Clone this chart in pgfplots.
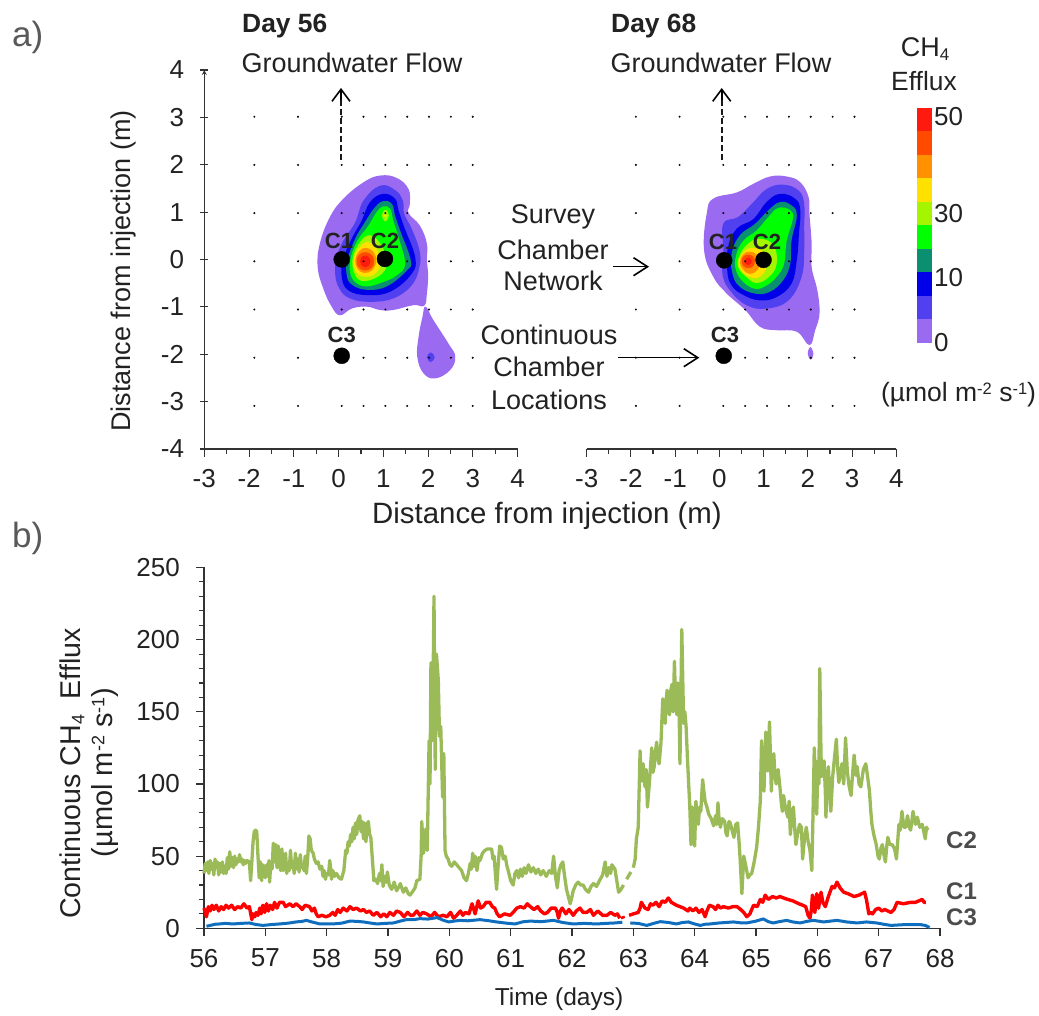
\documentclass[border=0pt]{standalone}
\usepackage{pgfplots}
\pgfplotsset{compat=1.18}
\usepackage{fontspec}
\setmainfont{Liberation Sans}
\usetikzlibrary{arrows.meta}
\newcommand{\fs}[1]{\fontsize{#1}{#1}\selectfont}
\definecolor{c1}{HTML}{9A6AF0}
\definecolor{c2}{HTML}{5040F0}
\definecolor{c3}{HTML}{0000E8}
\definecolor{c4}{HTML}{0A8F70}
\definecolor{c5}{HTML}{00FF00}
\definecolor{c6}{HTML}{A5F500}
\definecolor{c7}{HTML}{FFE000}
\definecolor{c8}{HTML}{FF9000}
\definecolor{c9}{HTML}{FF4A00}
\definecolor{c10}{HTML}{FF1A10}
\definecolor{axc}{HTML}{333333}
\definecolor{txt}{HTML}{222222}
\definecolor{gr}{HTML}{9BBB59}
\definecolor{bl}{HTML}{0F6FBE}
\pgfplotsset{
  mapax/.style={scale only axis,axis lines=none,clip=false,ymin=-3.894,ymax=3.97,tick style={draw=none}},
  cont/.style={fill=#1,draw=none,smooth cycle,tension=0.7,forget plot},
  dots/.style={only marks,mark=*,mark size=0.8pt,mark options={fill=black!75,draw=none},forget plot},
  chamb/.style={only marks,mark=*,mark size=8pt,mark options={fill=black,draw=black},forget plot},
  topax/.style={scale only axis,axis x line=bottom,clip=false,xmin=-3,xmax=4,ymin=-4,ymax=4,
    axis line style={-,draw=axc,line width=1.2pt},tick style={draw=axc,line width=1.1pt},
    tick align=outside,major tick length=8pt,minor tick length=5.5pt,
    xtick={-3,-2,-1,0,1,2,3,4},xticklabels={-3,-2,-1,0,1,2,3,4},minor x tick num=1,
    xticklabel style={font=\fs{26},text=txt,inner sep=0pt,yshift=-12.5pt},
    yticklabel style={font=\fs{26},text=txt,inner sep=0pt,xshift=-16pt}},
}
\newcommand{\tn}[4][center]{\node[anchor=#1,inner sep=0pt,text=txt,align=center] at (#2,{1015-#3}) {#4};}
\begin{document}
\begin{tikzpicture}[x=1pt,y=1pt]
\useasboundingbox (0,0) rectangle (1039,1015);

% ---------- left map
\begin{axis}[mapax,at={(204.3pt,566pt)},width=313.4pt,height=379pt,xmin=-3.146,xmax=4.03]
\addplot[cont=c1] coordinates {(.88,1.78)(1.26,1.73)(1.53,1.50)(1.56,1.19)(1.53,1.00)(1.79,.74)(1.95,.37)(1.95,.02)(1.98,-.26)(1.95,-.67)(1.89,-.92)(1.64,-.91)(1.18,-1.01)(.88,-1.01)(.57,-.94)(.23,-.98)(-.04,-1.12)(-.23,-.94)(-.42,-.57)(-.55,-.12)(-.50,.37)(-.27,.92)(.04,1.30)(.50,1.64)};
\addplot[cont=c1] coordinates {(1.92,-.94)(2.10,-1.22)(2.44,-1.70)(2.60,-1.98)(2.48,-2.26)(2.14,-2.43)(1.87,-2.32)(1.73,-1.98)(1.76,-1.57)(1.85,-1.15)};
\addplot[cont=c2] coordinates {(2.04,-1.89)(2.13,-1.99)(2.04,-2.09)(1.95,-1.99)};
\addplot[cont=c2] coordinates {(.88,1.57)(1.22,1.48)(1.40,1.26)(1.43,.99)(1.60,.68)(1.78,.23)(1.78,-.12)(1.60,-.50)(1.18,-.77)(.65,-.84)(.19,-.77)(-.05,-.57)(-.15,-.26)(-.11,.09)(.04,.43)(.31,.81)(.50,1.26)};
\addplot[cont=c3] coordinates {(.95,1.40)(1.22,1.30)(1.30,1.06)(1.43,.71)(1.68,.09)(1.60,-.26)(1.11,-.63)(.57,-.70)(.15,-.60)(0,-.32)(.04,.06)(.23,.47)(.46,.85)(.65,1.23)};
\addplot[cont=c4] coordinates {(.95,1.25)(1.15,1.19)(1.22,.95)(1.35,.61)(1.58,.02)(1.49,-.19)(1.03,-.52)(.57,-.59)(.23,-.48)(.11,-.26)(.14,.06)(.31,.47)(.53,.81)(.76,1.12)};
\addplot[cont=c5] coordinates {(.95,1.14)(1.11,1.09)(1.18,.85)(1.30,.50)(1.45,-.05)(1.26,-.29)(.95,-.43)(.57,-.52)(.31,-.43)(.19,-.22)(.21,.09)(.36,.43)(.61,.74)(.80,1.02)};
\addplot[cont=c6] coordinates {(.65,.54)(.88,.37)(1.03,.02)(.92,-.26)(.53,-.41)(.31,-.29)(.25,.06)(.42,.40)};
\addplot[cont=c6] coordinates {(1,1.07)(1.08,.95)(1,.83)(.92,.95)};
\addplot[cont=c7] coordinates {(1,.99)(1.03,.95)(1,.91)(.97,.95)};
\addplot[cont=c7] coordinates {(.59,.40)(.80,.26)(.88,-.05)(.76,-.26)(.53,-.32)(.33,-.22)(.28,.06)(.42,.30)};
\addplot[cont=c8] coordinates {(.56,.28)(.73,.19)(.79,-.01)(.69,-.19)(.51,-.24)(.36,-.15)(.31,.03)(.40,.21)};
\addplot[cont=c9] coordinates {(.54,.19)(.69,.13)(.74,0)(.69,-.13)(.54,-.19)(.39,-.13)(.34,0)(.39,.13)};
\addplot[cont=c10] coordinates {(.54,.12)(.63,.08)(.66,0)(.63,-.08)(.54,-.12)(.45,-.08)(.42,0)(.45,.08)};
\addplot[dots] coordinates {
(-2,3)(-1,3)(0,3)(.5,3)(1,3)(1.5,3)(2,3)(2.5,3)(3,3)
(-2,2)(-1,2)(0,2)(.5,2)(1,2)(1.5,2)(2,2)(2.5,2)(3,2)
(-2,1)(-1,1)(0,1)(.5,1)(1,1)(1.5,1)(2,1)(2.5,1)(3,1)
(-2,0)(-1,0)(0,0)(.5,0)(1,0)(1.5,0)(2,0)(2.5,0)(3,0)
(-2,-1)(-1,-1)(0,-1)(.5,-1)(1,-1)(1.5,-1)(2,-1)(2.5,-1)(3,-1)
(-2,-2)(-1,-2)(0,-2)(.5,-2)(1,-2)(1.5,-2)(2,-2)(2.5,-2)(3,-2)
(-2,-3)(-1,-3)(0,-3)(.5,-3)(1,-3)(1.5,-3)(2,-3)(2.5,-3)(3,-3)};
\addplot[chamb] coordinates {(0,.04)(.99,.05)(0,-1.96)};
\end{axis}

% ---------- right map
\begin{axis}[mapax,at={(586.7pt,566pt)},width=309.6pt,height=379pt,xmin=-3.124,xmax=3.956]
\addplot[cont=c1] coordinates {(1.45,1.76)(1.76,1.64)(1.95,1.33)(1.97,.99)(2.02,.37)(2.02,-.12)(2.15,-.60)(2.20,-1.08)(2.10,-1.43)(1.97,-1.74)(1.68,-1.46)(1.22,-1.43)(.84,-1.36)(.50,-1.01)(.08,-.67)(-.23,-.32)(-.44,.23)(-.38,.99)(-.23,1.30)(.31,1.43)(.69,1.61)(1.07,1.76)};
\addplot[cont=c1] coordinates {(1.99,-1.78)(2.06,-1.92)(2.0,-2.04)(1.93,-1.92)};
\addplot[cont=c2] coordinates {(1.37,1.59)(1.72,1.47)(1.85,1.19)(1.85,.71)(1.85,.23)(1.79,-.32)(1.49,-.81)(.99,-.98)(.53,-.91)(.15,-.60)(-.02,-.26)(0,.23)(0,.78)(.34,.92)(.65,1.19)(.99,1.50)};
\addplot[cont=c3] coordinates {(1.30,1.40)(1.64,1.30)(1.76,1.06)(1.73,.57)(1.68,.02)(1.56,-.46)(1.22,-.74)(.84,-.81)(.46,-.70)(.19,-.50)(.09,-.19)(.11,.30)(.31,.68)(.69,.88)(.99,1.23)};
\addplot[cont=c4] coordinates {(1.30,1.23)(1.56,1.16)(1.68,.95)(1.56,.43)(1.53,-.05)(1.37,-.39)(1.07,-.63)(.73,-.67)(.38,-.53)(.21,-.26)(.19,.16)(.38,.54)(.73,.78)(1.03,1.06)};
\addplot[cont=c5] coordinates {(1.26,1.11)(1.53,1.06)(1.59,.88)(1.45,.43)(1.39,-.05)(1.22,-.32)(.99,-.50)(.73,-.57)(.46,-.43)(.29,-.19)(.29,.12)(.46,.43)(.76,.64)(1.03,.92)};
\addplot[cont=c6] coordinates {(.84,.47)(1.15,.33)(1.22,-.05)(1.05,-.32)(.76,-.45)(.52,-.32)(.34,-.12)(.37,.12)(.57,.37)};
\addplot[cont=c7] coordinates {(.65,.28)(.92,.19)(.98,-.12)(.84,-.32)(.65,-.34)(.46,-.24)(.35,-.05)(.44,.17)};
\addplot[cont=c8] coordinates {(.60,.2)(.76,.14)(.84,-.03)(.76,-.2)(.6,-.26)(.46,-.18)(.38,-.03)(.45,.14)};
\addplot[cont=c9] coordinates {(.57,.14)(.68,.10)(.72,0)(.68,-.10)(.57,-.14)(.46,-.10)(.42,0)(.46,.10)};
\addplot[cont=c10] coordinates {(.57,.08)(.63,.05)(.65,0)(.63,-.05)(.57,-.08)(.51,-.05)(.49,0)(.51,.05)};
\addplot[dots] coordinates {
(-2,3)(-1,3)(0,3)(.5,3)(1,3)(1.5,3)(2,3)(2.5,3)(3,3)
(-2,2)(-1,2)(0,2)(.5,2)(1,2)(1.5,2)(2,2)(2.5,2)(3,2)
(-2,1)(-1,1)(0,1)(.5,1)(1,1)(1.5,1)(2,1)(2.5,1)(3,1)
(-1,0)(0,0)(.5,0)(1,0)(1.5,0)(2,0)(2.5,0)(3,0)
(-2,-1)(-1,-1)(0,-1)(.5,-1)(1,-1)(1.5,-1)(2,-1)(2.5,-1)(3,-1)
(-2,-2)(-1,-2)(0,-2)(.5,-2)(1,-2)(1.5,-2)(2,-2)(2.5,-2)(3,-2)
(-2,-3)(-1,-3)(0,-3)(.5,-3)(1,-3)(1.5,-3)(2,-3)(2.5,-3)(3,-3)};
\addplot[chamb] coordinates {(.02,.02)(.92,.03)(.01,-1.96)};
\end{axis}

% ---------- visible top axes
\begin{axis}[topax,at={(204.3pt,566pt)},width=313.4pt,height=379pt,axis y line=left,
  ytick={-4,-3,-2,-1,0,1,2,3,4},yticklabels={-4,-3,-2,-1,0,1,2,3,4}]
\addplot[draw=none,forget plot] coordinates {(0,0)};
\end{axis}
\begin{axis}[topax,at={(586.7pt,566pt)},width=309.6pt,height=379pt,axis y line=none]
\addplot[draw=none,forget plot] coordinates {(0,0)};
\end{axis}

% ---------- colour bar
\begin{axis}[scale only axis,axis lines=none,at={(917.3pt,672pt)},width=14.4pt,height=235pt,xmin=0,xmax=1,ymin=0,ymax=50,clip=false]
\addplot[fill=c1,draw=none,forget plot] coordinates {(0,0)(1,0)(1,5)(0,5)} --cycle;
\addplot[fill=c2,draw=none,forget plot] coordinates {(0,5)(1,5)(1,10)(0,10)} --cycle;
\addplot[fill=c3,draw=none,forget plot] coordinates {(0,10)(1,10)(1,15)(0,15)} --cycle;
\addplot[fill=c4,draw=none,forget plot] coordinates {(0,15)(1,15)(1,20)(0,20)} --cycle;
\addplot[fill=c5,draw=none,forget plot] coordinates {(0,20)(1,20)(1,25)(0,25)} --cycle;
\addplot[fill=c6,draw=none,forget plot] coordinates {(0,25)(1,25)(1,30)(0,30)} --cycle;
\addplot[fill=c7,draw=none,forget plot] coordinates {(0,30)(1,30)(1,35)(0,35)} --cycle;
\addplot[fill=c8,draw=none,forget plot] coordinates {(0,35)(1,35)(1,40)(0,40)} --cycle;
\addplot[fill=c9,draw=none,forget plot] coordinates {(0,40)(1,40)(1,45)(0,45)} --cycle;
\addplot[fill=c10,draw=none,forget plot] coordinates {(0,45)(1,45)(1,50)(0,50)} --cycle;
\end{axis}

% ---------- time series
\begin{axis}[scale only axis,at={(204pt,86.7pt)},width=736pt,height=360.8pt,
  axis x line=bottom,axis y line=left,xmin=56,xmax=68,ymin=0,ymax=250,clip=false,
  axis line style={-,draw=axc,line width=1.2pt},tick style={draw=axc,line width=1.1pt},
  tick align=outside,major tick length=8pt,minor tick length=5.5pt,
  xtick={56,57,58,59,60,61,62,63,64,65,66,67,68},xticklabels={56,57,58,59,60,61,62,63,64,65,66,67,68},
  ytick={0,50,100,150,200,250},yticklabels={0,50,100,150,200,250},minor y tick num=4,
  xticklabel style={font=\fs{26},text=txt,inner sep=0pt,yshift=-12.5pt},
  yticklabel style={font=\fs{26},text=txt,inner sep=0pt,xshift=-16pt}]
\addplot[gr,line width=3.3pt,forget plot,line join=round] coordinates {
(56,38)(56.02,45)(56.04,40)(56.06,46)(56.08,38)(56.1,47)(56.12,41)(56.14,45)(56.16,37)(56.18,48)(56.2,42)(56.22,46)(56.24,37)(56.26,45)(56.28,39)(56.3,46)(56.32,38)(56.34,43)(56.36,38)(56.38,49)(56.4,41)(56.42,53)(56.44,43)(56.46,49)(56.48,42)(56.5,50)(56.52,44)(56.54,48)(56.56,46)(56.58,51)(56.6,46)(56.62,48)(56.64,44)(56.66,47)(56.68,45)(56.7,47)(56.74,46)(56.76,33)(56.78,46)(56.8,60)(56.82,67)(56.84,68)(56.86,67)(56.88,50)(56.9,35)(56.92,46)(56.94,33)(56.96,44)(56.98,40)(57,35)
(57.02,44)(57.04,36)(57.06,47)(57.07,32)(57.09,46)(57.11,41)(57.13,59)(57.15,46)(57.17,58)(57.19,42)(57.21,57)(57.23,44)(57.25,40)(57.27,55)(57.29,40)(57.31,42)(57.33,52)(57.35,38)(57.37,45)(57.39,40)(57.41,54)(57.43,42)(57.45,46)(57.47,38)(57.49,52)(57.51,41)(57.53,48)(57.55,39)(57.57,51)(57.59,42)(57.61,44)(57.63,40)(57.65,50)(57.67,38)(57.69,48)(57.71,64)(57.73,62)(57.75,54)(57.78,52)(57.8,48)(57.83,45)(57.86,46)(57.89,41)(57.92,43)(57.94,36)(57.96,40)(57.98,34)(58,38)(58.03,37)(58.05,47)(58.07,40)(58.08,34)(58.1,40)(58.13,36)(58.16,38)(58.2,35)(58.24,34)(58.28,40)(58.31,54)(58.33,52)(58.35,60)(58.37,57)(58.39,65)(58.41,60)(58.43,70)(58.45,62)(58.47,73)(58.49,65)(58.51,75)(58.54,78)(58.56,67)(58.58,74)(58.6,62)(58.62,73)(58.64,60)(58.66,72)(58.68,74)(58.7,65)(58.72,63)(58.75,45)(58.77,33)(58.8,34)(58.83,31)(58.86,38)(58.88,33)(58.9,44)(58.92,29)(58.95,36)(58.97,32)(58.99,39)(59.02,30)(59.06,27)(59.1,32)(59.14,26)(59.18,29)(59.2,31)(59.25,25)(59.29,28)(59.33,24)(59.36,23)(59.41,26)(59.44,28)(59.47,33)(59.52,34)(59.54,50)(59.55,74)(59.58,52)(59.6,62)(59.62,69)(59.64,54)(59.67,130)(59.685,100)(59.7,184)(59.72,130)(59.735,170)(59.75,230)(59.77,110)(59.79,190)(59.82,172)(59.84,133)(59.86,140)(59.89,91)(59.91,121)(59.93,54)(59.95,50)(59.98,48)(60.01,44)(60.04,43)(60.08,46)(60.12,44)(60.16,42)(60.2,40)(60.24,35)(60.28,33)(60.31,38)(60.34,45)(60.36,41)(60.38,52)(60.4,43)(60.42,50)(60.45,40)(60.48,49)(60.5,47)(60.54,52)(60.58,54)(60.62,55)(60.69,55)(60.71,48)(60.73,50)(60.77,27)(60.79,40)(60.82,57)(60.85,56)(60.88,48)(60.91,50)(60.94,43)(60.96,40)(61,33)(61.04,30)(61.07,38)(61.1,40)(61.13,35)(61.16,41)(61.19,36)(61.22,42)(61.25,38)(61.29,44)(61.33,39)(61.37,42)(61.41,38)(61.45,41)(61.49,37)(61.53,40)(61.58,36)(61.63,40)(61.67,38)(61.7,50)(61.73,36)(61.76,28)(61.79,40)(61.82,44)(61.85,46)(61.88,36)(61.91,27)(61.94,22)(61.97,17)(62,22)(62.02,26)(62.06,30)(62.1,32)(62.14,30)(62.18,30)(62.22,27)(62.27,25)(62.31,29)(62.35,31)(62.4,29)(62.46,34)(62.5,37)(62.54,46)(62.57,36)(62.6,42)(62.63,38)(62.65,44)(62.7,41)(62.73,33)(62.76,25)(62.8,27)(62.84,30)};
\addplot[gr,line width=3.3pt,forget plot] coordinates {(62.89,34)(62.96,39)};
\addplot[gr,line width=3.3pt,forget plot,line join=round] coordinates {
(63,42)(63.03,48)(63.05,62)(63.08,70)(63.11,123)(63.125,105)(63.14,102)(63.16,114)(63.19,98)(63.21,110)(63.23,84)(63.26,100)(63.28,112)(63.3,125)(63.32,108)(63.34,112)(63.36,122)(63.38,129)(63.4,118)(63.42,114)(63.45,128)(63.48,159)(63.5,150)(63.52,142)(63.535,158)(63.55,165)(63.57,150)(63.59,148)(63.61,165)(63.63,169)(63.65,150)(63.67,185)(63.69,155)(63.71,148)(63.725,170)(63.74,168)(63.76,114)(63.79,207)(63.82,142)(63.84,150)(63.86,140)(63.88,120)(63.9,102)(63.92,85)(63.94,58)(63.96,84)(63.98,75)(64,57)(64.02,88)(64.04,78)(64.06,72)(64.08,84)(64.1,81)(64.13,103)(64.15,95)(64.17,88)(64.2,84)(64.23,79)(64.27,76)(64.31,71)(64.34,78)(64.36,72)(64.38,87)(64.4,74)(64.42,70)(64.45,76)(64.49,74)(64.51,66)(64.53,64)(64.56,74)(64.58,73)(64.61,68)(64.64,63)(64.67,72)(64.7,73)(64.72,62)(64.74,49)(64.77,24)(64.8,50)(64.83,44)(64.87,35)(64.9,37)(64.93,38)(64.97,46)(65.01,56)(65.04,70)(65.07,88)(65.09,130)(65.11,110)(65.13,95)(65.16,136)(65.175,115)(65.19,109)(65.22,143)(65.25,95)(65.27,115)(65.29,121)(65.31,105)(65.33,100)(65.36,110)(65.39,98)(65.41,88)(65.43,81)(65.45,92)(65.47,86)(65.5,80)(65.52,77)(65.54,88)(65.56,65)(65.59,80)(65.61,84)(65.63,70)(65.65,58)(65.68,66)(65.71,72)(65.74,70)(65.76,48)(65.79,62)(65.82,70)(65.85,60)(65.88,54)(65.91,40)(65.93,80)(65.95,125)(65.97,100)(65.99,79)(66.01,116)(66.025,100)(66.04,180)(66.06,120)(66.07,105)(66.09,110)(66.11,116)(66.13,95)(66.14,77)(66.16,100)(66.18,112)(66.2,95)(66.22,81)(66.25,105)(66.27,114)(66.31,131)(66.33,112)(66.35,101)(66.38,108)(66.4,114)(66.43,100)(66.46,132)(66.49,108)(66.52,98)(66.55,92)(66.58,110)(66.6,120)(66.63,106)(66.65,112)(66.68,100)(66.71,98)(66.75,110)(66.79,114)(66.82,105)(66.85,95)(66.87,82)(66.89,72)(66.92,65)(66.96,58)(66.99,50)(67.01,48)(67.04,56)(67.06,58)(67.09,50)(67.11,46)(67.13,56)(67.15,63)(67.18,58)(67.22,58)(67.26,55)(67.29,48)(67.31,60)(67.33,72)(67.35,68)(67.38,81)(67.41,70)(67.44,70)(67.47,78)(67.5,70)(67.52,68)(67.54,74)(67.56,81)(67.6,72)(67.63,77)(67.67,70)(67.71,72)(67.74,66)(67.76,62)(67.78,70)(67.8,68)};
\addplot[red,line width=3.4pt,forget plot,line join=round] coordinates {
(56,14)(56.02,11)(56.04,8)(56.07,15)(56.1,12)(56.13,16)(56.16,13)(56.2,16)(56.24,12)(56.28,15)(56.32,13)(56.36,16)(56.4,14)(56.45,16)(56.5,13)(56.55,15)(56.6,14)(56.65,17)(56.7,14)(56.74,15)(56.78,6)(56.8,10)(56.83,8)(56.85,11)(56.88,9)(56.91,14)(56.93,10)(56.96,16)(56.99,11)(57.02,17)(57.05,12)(57.08,16)(57.12,13)(57.15,18)(57.19,14)(57.23,18)(57.29,18)(57.33,15)(57.4,17)(57.45,15)(57.5,17)(57.56,15)(57.6,13)(57.65,16)(57.72,15)(57.76,12)(57.8,14)(57.83,10)(57.86,8)(57.92,9)(57.99,8)(58.05,9)(58.1,11)(58.14,9)(58.18,13)(58.22,11)(58.27,14)(58.33,12)(58.38,15)(58.43,13)(58.49,14)(58.55,12)(58.6,13)(58.65,11)(58.7,12)(58.76,9)(58.82,11)(58.88,8)(58.93,10)(58.98,8)(59.03,11)(59.09,9)(59.14,12)(59.2,11)(59.26,8)(59.32,11)(59.37,9)(59.41,9)(59.47,12)(59.52,9)(59.57,11)(59.63,10)(59.7,8)(59.76,11)(59.82,8)(59.9,9)(59.96,8)(60.02,11)(60.07,7)(60.12,9)(60.18,12)(60.22,9)(60.26,11)(60.32,10)(60.37,17)(60.4,13)(60.42,10)(60.47,19)(60.51,14)(60.55,15)(60.6,18)(60.66,18)(60.7,15)(60.74,14)(60.78,10)(60.82,8)(60.9,10)(60.99,9)(61.04,11)(61.1,14)(61.16,15)(61.22,14)(61.27,17)(61.32,15)(61.38,13)(61.44,15)(61.49,12)(61.55,10)(61.6,11)(61.66,14)(61.73,14)(61.76,11)(61.78,7)(61.81,12)(61.84,14)(61.9,10)(61.95,13)(62.02,9)(62.07,12)(62.13,14)(62.18,11)(62.24,11)(62.3,13)(62.35,9)(62.42,12)(62.5,9)(62.57,9)(62.63,11)(62.7,9)(62.74,10)(62.78,7)};
\addplot[red,line width=2.6pt,forget plot] coordinates {(62.8,7)(62.86,8)};
\addplot[red,line width=3.4pt,forget plot,line join=round] coordinates {
(62.93,9)(63.0,10)(63.08,11)(63.11,14)(63.13,18)(63.16,16)(63.19,14)(63.24,13)(63.28,17)(63.32,16)(63.37,18)(63.42,15)(63.47,19)(63.52,18)(63.57,21)(63.62,18)(63.66,17)(63.7,16)(63.76,15)(63.82,14)(63.89,12)(63.92,14)(63.97,12)(64.02,14)(64.07,11)(64.12,13)(64.17,8)(64.2,12)(64.24,16)(64.3,15)(64.34,13)(64.38,16)(64.42,14)(64.47,15)(64.55,14)(64.62,15)(64.69,15)(64.75,13)(64.8,11)(64.85,8)(64.9,10)(64.96,16)(65.02,15)(65.07,20)(65.11,18)(65.15,23)(65.2,20)(65.27,22)(65.33,21)(65.39,22)(65.45,21)(65.52,20)(65.6,19)(65.7,17)(65.76,16)(65.81,15)(65.85,9)(65.88,7)(65.9,12)(65.92,23)(65.96,11)(65.99,24)(66.02,14)(66.06,25)(66.09,18)(66.13,15)(66.18,22)(66.24,29)(66.28,28)(66.32,32)(66.37,28)(66.43,25)(66.5,24)(66.6,22)(66.68,23)(66.77,25)(66.8,20)(66.84,10)(66.87,11)(66.9,10)(66.95,13)(67,14)(67.05,12)(67.1,13)(67.2,11)(67.25,13)(67.3,18)(67.4,17)(67.52,18)(67.6,18)(67.71,20)(67.74,18)(67.77,18)};
\addplot[bl,line width=3pt,forget plot,line join=round] coordinates {
(56.04,1.4)(56.1,2)(56.18,2.8)(56.25,3)(56.35,3.4)(56.47,3)(56.6,3.4)(56.74,3.7)(56.85,2.6)(56.96,2)(57.1,2.6)(57.23,3)(57.38,3.6)(57.5,4.4)(57.6,4.8)(57.67,5.5)(57.75,4.5)(57.89,3)(58.1,3)(58.25,3.6)(58.38,5)(58.5,4.8)(58.6,4.4)(58.72,3.6)(58.82,3)(58.95,3.4)(59.09,3.7)(59.2,5)(59.3,6)(59.42,6)(59.52,6.7)(59.65,6.4)(59.8,7.4)(59.9,5.6)(59.99,4.4)(60.08,5)(60.17,5.5)(60.3,5.2)(60.5,6)(60.65,5.2)(60.77,4.4)(60.92,3.6)(61.07,3)(61.2,4.5)(61.32,5)(61.5,4.6)(61.7,5.5)(61.85,4)(62.02,3)(62.2,3.4)(62.4,3)(62.55,3.4)(62.7,3.7)(62.82,4.2)};
\addplot[bl,line width=3pt,forget plot,line join=round] coordinates {
(62.95,3.7)(63.08,3.4)(63.22,2)(63.33,3.4)(63.44,4.6)(63.58,4)(63.7,3)(63.8,4)(63.9,4.4)(64,3)(64.09,2)(64.17,2.8)(64.25,3)(64.4,3.7)(64.63,4.4)(64.75,3.8)(64.85,3.7)(65,5)(65.12,6.5)(65.2,4.6)(65.28,3.7)(65.38,4.6)(65.5,5.5)(65.6,4.4)(65.72,3.7)(65.83,4.8)(65.94,5.5)(66.1,4.4)(66.32,5.5)(66.48,4.4)(66.65,3.7)(66.8,4.4)(66.97,3.7)(67.08,2.8)(67.2,2)(67.4,2.5)(67.69,2.5)(67.76,2)(67.83,.5)};
\end{axis}

% ---------- text
\tn[west]{12}{37}{\color{black!65}\fs{35}a)}
\tn[west]{12}{538}{\color{black!65}\fs{35}b)}
\tn[west]{242}{26}{\fs{26.4}\bfseries Day 56}
\tn[west]{611}{26}{\fs{26.4}\bfseries Day 68}
\tn{352}{63}{\fs{27}Groundwater Flow}
\tn{721}{63}{\fs{27}Groundwater Flow}
\tn{925}{49}{\fs{27}CH\raisebox{-4pt}{\fs{17}4}}
\tn{924}{81}{\fs{26.4}Efflux}
\tn[west]{934}{117}{\fs{26}50}
\tn[west]{934}{214}{\fs{26}30}
\tn[west]{934}{278}{\fs{26}10}
\tn[west]{934}{343}{\fs{26}0}
\tn{958.5}{395}{\fs{26.5}(µmol m\raisebox{7.5pt}{\fs{16.5}-2} s\raisebox{7.5pt}{\fs{16.5}-1})}
\tn{553}{217}{\fs{27}Survey}
\tn{553}{250}{\fs{27}Chamber}
\tn{553}{281}{\fs{27}Network}
\tn{549}{335}{\fs{27}Continuous}
\tn{549}{367}{\fs{27}Chamber}
\tn{549}{400}{\fs{27}Locations}
\tn{339}{241}{\fs{22}\bfseries C1}
\tn{385}{241}{\fs{22}\bfseries C2}
\tn{341.7}{335}{\fs{22}\bfseries C3}
\tn{723}{241.7}{\fs{22}\bfseries C1}
\tn{767}{241.7}{\fs{22}\bfseries C2}
\tn{725}{335}{\fs{22}\bfseries C3}
\tn[west]{946}{840}{\color{black!70}\fs{24}\bfseries C2}
\tn[west]{946}{891}{\color{black!70}\fs{24}\bfseries C1}
\tn[west]{946}{917}{\color{black!70}\fs{24}\bfseries C3}
\tn{547}{516}{\fs{29.4}Distance from injection (m)}
\tn{559}{999}{\fs{24.5}Time (days)}
\node[rotate=90,text=txt,inner sep=0pt] at (124,{1015-271}) {\fs{27}Distance from injection (m)};
\node[rotate=90,text=txt,inner sep=0pt] at (72,{1015-773.5}) {\fs{28.6}Continuous CH\raisebox{-4pt}{\fs{18}4}\ \ Efflux};
\node[rotate=90,text=txt,inner sep=0pt] at (105,{1015-772.5}) {\fs{29}(µmol m\raisebox{8pt}{\fs{18}-2} s\raisebox{8pt}{\fs{18}-1})};
% ---------- arrows
\draw[line width=1.9pt,black!90,dash pattern=on 6pt off 3pt] (341,855) -- (341,925);
\draw[line width=1.6pt,black,-{Straight Barb[length=12pt,width=18pt,line width=1.6pt]}] (341,915) -- (341,927);
\draw[line width=1.9pt,black!90,dash pattern=on 6pt off 3pt] (721.7,855) -- (721.7,925);
\draw[line width=1.6pt,black,-{Straight Barb[length=12pt,width=18pt,line width=1.6pt]}] (721.7,915) -- (721.7,927);
\draw[line width=1.6pt,black,-{Straight Barb[length=14pt,width=18pt,line width=1.6pt]}] (613,748.3) -- (649,748.3);
\draw[line width=1.6pt,black,-{Straight Barb[length=14pt,width=18pt,line width=1.6pt]}] (617.7,657.3) -- (699.3,657.3);
\end{tikzpicture}
\end{document}
